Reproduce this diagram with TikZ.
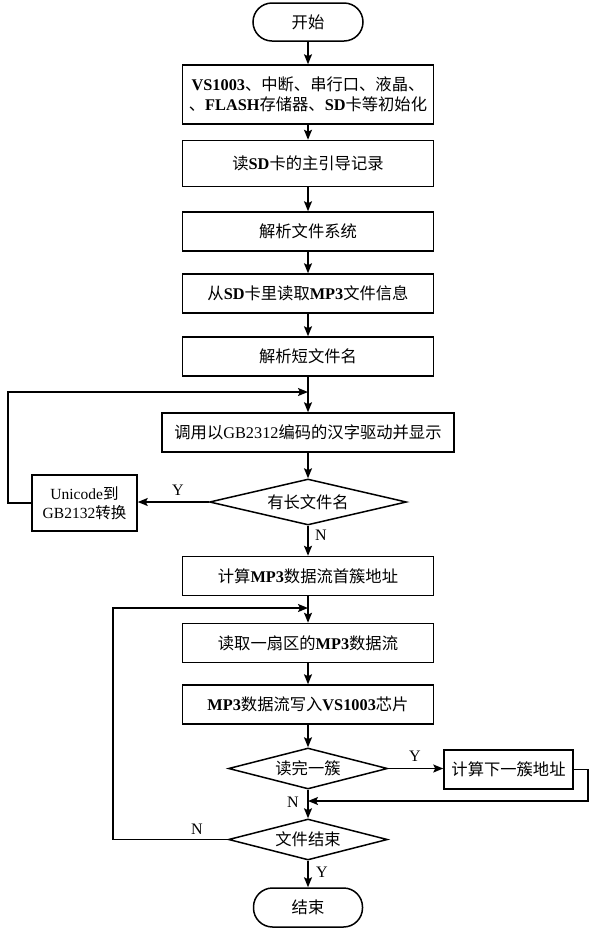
\documentclass[tikz,border=0pt]{standalone}
\usepackage{fontspec}
\setmainfont{Liberation Serif}
\newfontfamily\cjk{Noto Sans CJK SC}
\usetikzlibrary{shapes.geometric,arrows.meta}
\newcommand\zh[1]{{\cjk #1}}
\newcommand\lb[1]{\textbf{#1}}
\begin{document}
\begin{tikzpicture}[x=1pt,y=-1pt,
  every node/.style={font=\fontsize{16.3}{20.5}\selectfont},
  proc/.style={draw,line width=1.5pt,rectangle,minimum width=251pt,minimum height=39pt,inner sep=2pt,align=center},
  term/.style={draw,line width=1.5pt,rectangle,rounded corners=19pt,minimum width=110pt,minimum height=38pt,inner sep=0pt},
  decide/.style={draw,line width=1.5pt,diamond,aspect=4,inner sep=0pt},
  lab/.style={inner sep=0pt,font=\fontsize{16}{18}\selectfont},
  conn/.style={line width=1.5pt,-{Stealth[length=10pt,width=8pt,inset=2pt]}}]
\useasboundingbox (0,0) rectangle (595,930);
\node[term] (start) at (308,22) {\zh{开始}};
\node[proc,minimum height=59pt] (b1) at (308,94.5) {\lb{VS1003}\zh{、中断、串行口、液晶、}\\\zh{、}\lb{FLASH}\zh{存储器、}\lb{SD}\zh{卡等初始化}};
\node[proc,minimum height=46pt] (b2) at (308,163.5) {\zh{读}\lb{SD}\zh{卡的主引导记录}};
\node[proc] (b3) at (308,231.5) {\zh{解析文件系统}};
\node[proc] (b4) at (308,293.5) {\zh{从}\lb{SD}\zh{卡里读取}\lb{MP3}\zh{文件信息}};
\node[proc] (b5) at (308,356.5) {\zh{解析短文件名}};
\node[proc,minimum width=292pt] (b6) at (308,432.5) {\zh{调用以}GB2312\zh{编码的汉字驱动并显示}};
\node[decide,minimum width=197pt,minimum height=46pt] (d1) at (308,502) {\zh{有长文件名}};
\node[proc,minimum width=105pt,minimum height=56pt,inner sep=1pt,font=\fontsize{15.5}{19}\selectfont] (uni) at (84.5,503) {Unicode\zh{到}\\GB2132\zh{转换}};
\node[proc] (b7) at (308,576) {\zh{计算}\lb{MP3}\zh{数据流首簇地址}};
\node[proc] (b8) at (308,643) {\zh{读取一扇区的}\lb{MP3}\zh{数据流}};
\node[proc] (b9) at (308,704.5) {\lb{MP3}\zh{数据流写入}\lb{VS1003}\zh{芯片}};
\node[decide,minimum width=159pt,minimum height=41pt] (d2) at (308,768.5) {\zh{读完一簇}};
\node[proc,minimum width=129pt,minimum height=39pt] (nb) at (508.5,769.5) {\zh{计算下一簇地址}};
\node[decide,minimum width=159pt,minimum height=41pt] (d3) at (308,839.5) {\zh{文件结束}};
\node[term,minimum width=109pt,minimum height=39pt] (end) at (308,907.5) {\zh{结束}};
\coordinate (j1) at (308,392);
\coordinate (j2) at (308,608);
\coordinate (j3) at (308,801);
\draw[conn] (start) -- (b1);
\draw[conn] (b1) -- (b2);
\draw[conn] (b2) -- (b3);
\draw[conn] (b3) -- (b4);
\draw[conn] (b4) -- (b5);
\draw[conn] (b5) -- (b6);
\draw[conn] (b6) -- (d1);
\draw[conn] (d1) -- (b7);
\draw[conn] (d1.west) -- (uni.east |- d1.west);
\draw[conn] (uni.west) -- (8,503) |- (j1);
\draw[conn] (b7) -- (b8);
\draw[conn] (b8) -- (b9);
\draw[conn] (b9) -- (d2);
\draw[conn] (d2.east) -- (nb.west |- d2.east);
\draw[conn] (nb.east) -- (588,769.5) |- (j3);
\draw[conn] (d2) -- (d3);
\draw[conn] (d3.west) -- (113,839.5) |- (j2);
\draw[conn] (d3) -- (end);
\node[lab] (ly1) at (178,490) {Y};
\node[lab] (ln1) at (321,535) {N};
\node[lab] (ly2) at (415,756) {Y};
\node[lab] (ln2) at (293,802) {N};
\node[lab] (ln3) at (197,829) {N};
\node[lab] (ly3) at (322,872) {Y};
\end{tikzpicture}
\end{document}
